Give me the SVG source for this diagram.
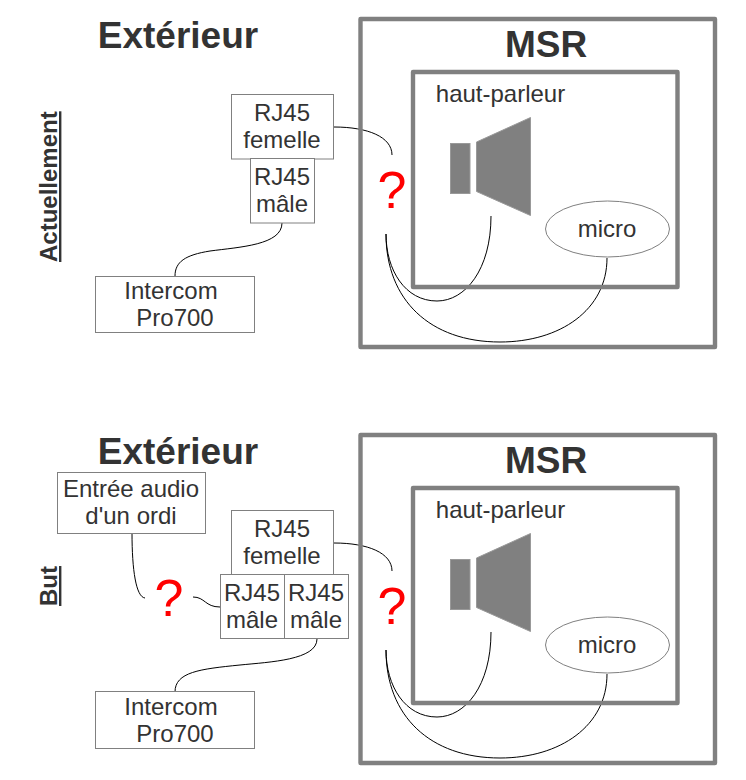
<svg xmlns="http://www.w3.org/2000/svg" width="746" height="780" viewBox="0 0 746 780">
<defs><style>
text{font-family:"Liberation Sans",Arial,sans-serif;fill:#333;}
.h{font-size:37px;font-weight:bold;text-anchor:middle}
.l{font-size:24px;text-anchor:middle}
.q{font-size:52px;fill:#f00;text-anchor:middle}
.v{font-size:24px;font-weight:bold;text-decoration:underline}
.b{fill:#fff;stroke:#808080;stroke-width:1}
.o{fill:none;stroke:#808080;stroke-width:4.4;stroke-linejoin:round}
.c{fill:none;stroke:#000;stroke-width:1}
.sp{fill:#808080;stroke:#999;stroke-width:1}
</style>
<g id="spk"><rect class="sp" x="450.5" y="143.5" width="19.5" height="50"/><path class="sp" d="M476.5 142L530.5 117.5V215.5L476.5 191.5Z"/></g>
</defs>
<g id="connectors">
<path class="c" d="M334 127C368 127 392 137 392 155"/>
<path class="c" d="M282 223C282 245 240 247 210 251C185 255 175 262 175 276"/>
<path class="c" d="M491 216C491 270 465 301 437 301C405 301 386 270 386 234"/>
<path class="c" d="M607 258C607 310 560 342 500 342C430 342 386 300 386 234"/>
<path class="c" d="M334 543C368 543 392 553 392 571"/>
<path class="c" d="M317 639C317 660 270 662 240 665C200 669 175 672 175 692"/>
<path class="c" d="M491 632C491 686 465 717 437 717C405 717 386 686 386 650"/>
<path class="c" d="M607 674C607 726 560 758 500 758C430 758 386 716 386 650"/>
<path class="c" d="M132 533C132 570 136 597 145 598"/>
<path class="c" d="M193 597C205 597 205 607 220 607"/>
</g>
<g id="top">
<rect class="o" x="360.5" y="19" width="354.500" height="328"/><rect class="o" x="413" y="72" width="264.500" height="215"/>
<text class="h" x="178" y="47.500">Extérieur</text><text class="h" x="546" y="57">MSR</text>
<text class="l" x="500.500" y="102">haut-parleur</text>
<use href="#spk"/>
<g id="micro1"><ellipse class="b" cx="607.500" cy="229" rx="62" ry="28"/><text class="l" x="607" y="237">micro</text></g>
<g id="rjf1"><rect class="b" x="231.500" y="94.500" width="102" height="64.500"/><text class="l" x="282" y="121">RJ45</text><text class="l" x="282" y="148">femelle</text></g>
<g id="rjm1"><rect class="b" x="250.500" y="158.500" width="64" height="64.500"/><text class="l" x="282" y="185">RJ45</text><text class="l" x="282" y="212">mâle</text></g>
<g id="ic1"><rect class="b" x="95.500" y="276.500" width="159" height="56"/><text class="l" x="171" y="299">Intercom</text><text class="l" x="175" y="326">Pro700</text></g>
<text class="q" x="392" y="208">?</text>
<text class="v" transform="translate(57 262) rotate(-90)">Actuellement</text>
</g>
<g id="bottom">
<rect class="o" x="360.500" y="435" width="354.500" height="328"/><rect class="o" x="413" y="488" width="264.500" height="215"/>
<text class="h" x="178" y="463.500">Extérieur</text><text class="h" x="546" y="473">MSR</text>
<text class="l" x="500.500" y="518">haut-parleur</text>
<use href="#spk" y="416"/>
<g id="micro2"><ellipse class="b" cx="607.500" cy="645" rx="62" ry="28"/><text class="l" x="607" y="653">micro</text></g>
<g id="audio"><rect class="b" x="57.500" y="472.500" width="148" height="61"/><text class="l" x="131" y="497">Entrée audio</text><text class="l" x="131" y="524">d'un ordi</text></g>
<g id="rjf2"><rect class="b" x="231.500" y="510.500" width="102" height="64"/><text class="l" x="282" y="537">RJ45</text><text class="l" x="282" y="564">femelle</text></g>
<g id="rjm2"><rect class="b" x="220.500" y="574.500" width="64" height="64"/><text class="l" x="252" y="601">RJ45</text><text class="l" x="252" y="628">mâle</text></g>
<g id="rjm3"><rect class="b" x="284.500" y="574.500" width="64" height="64"/><text class="l" x="316" y="601">RJ45</text><text class="l" x="316" y="628">mâle</text></g>
<g id="ic2"><rect class="b" x="95.500" y="691.500" width="159" height="57"/><text class="l" x="171" y="715">Intercom</text><text class="l" x="175" y="742">Pro700</text></g>
<text class="q" x="392" y="624">?</text><text class="q" x="169" y="616">?</text>
<text class="v" transform="translate(57 606) rotate(-90)">But</text>
</g>
</svg>
